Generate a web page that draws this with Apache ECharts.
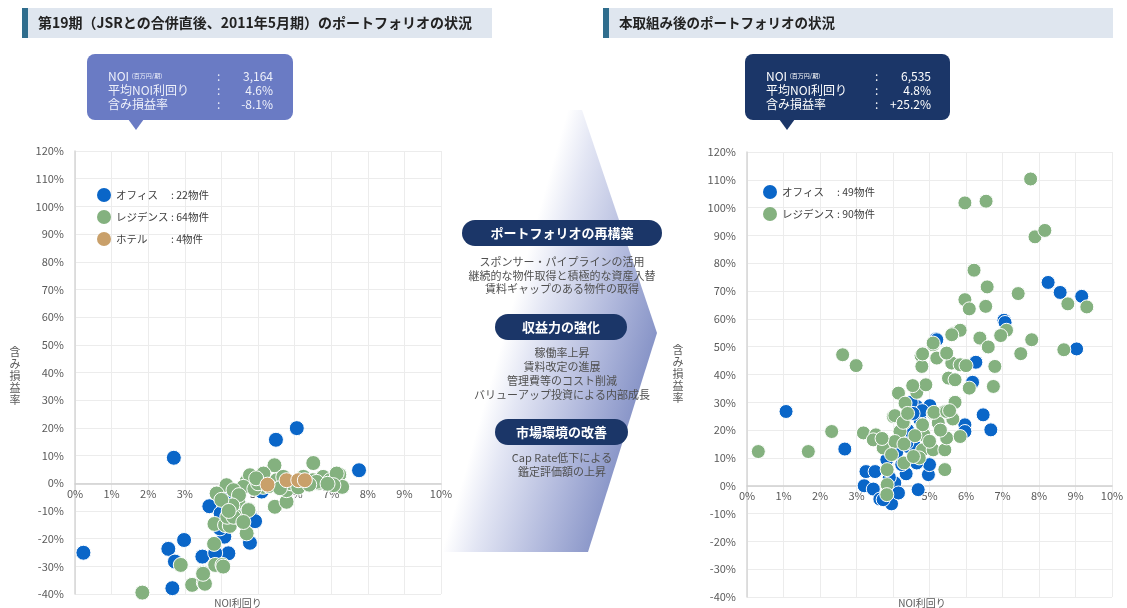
<!DOCTYPE html>
<html><head><meta charset="utf-8">
<script src="https://cdn.jsdelivr.net/npm/echarts@6/dist/echarts.min.js"></script>
<style>html,body{margin:0;padding:0;background:#fff}#c{width:1127px;height:608px}</style>
</head><body><div id="c"></div>
<script>
// ---------- data ----------
const seriesNames = ['オフィス', 'レジデンス', 'ホテル'];
const legendCountsLeft = [': 22物件', ': 64物件', ': 4物件'];
const legendCountsRight = [': 49物件', ': 90物件'];
const titleLeft = '第19期（JSRとの合併直後、2011年5月期）のポートフォリオの状況';
const titleRight = '本取組み後のポートフォリオの状況';
const calloutLabels = ['平均NOI利回り', '含み損益率'];
const calloutLeftValues = ['3,164', '4.6%', '-8.1%'];
const calloutRightValues = ['6,535', '4.8%', '+25.2%'];
const xAxisName = 'NOI利回り';
const yAxisName = '含み損益率';
const pillTitles = ['ポートフォリオの再構築', '収益力の強化', '市場環境の改善'];
const pillLines = [
  ['スポンサー・パイプラインの活用', '継続的な物件取得と積極的な資産入替', '賃料ギャップのある物件の取得'],
  ['稼働率上昇', '賃料改定の進展', '管理費等のコスト削減', 'バリューアップ投資による内部成長'],
  ['Cap Rate低下による', '鑑定評価額の上昇']
];
// [NOI yield %, unrealized gain/loss %]
const leftOffice = [[0.23,-25.1],[2.7,9.2],[2.55,-23.7],[2.98,-20.5],[2.73,-28.3],[2.66,-37.9],[3.48,-26.5],[3.67,-8.3],[3.98,-10.9],[4.22,-5.1],[4.08,-19.3],[4.19,-25.3],[3.83,-25.2],[3.96,-16.3],[4.8,-12.1],[4.92,-13.7],[4.78,-21.5],[5.49,15.7],[6.06,19.9],[7.76,4.7],[4.5,-8.0],[5.1,-3.0]];
const leftResidence = [[1.84,-39.5],[2.89,-29.5],[3.2,-36.7],[3.52,-35.9],[3.5,-32.3],[3.55,-36.3],[3.83,-29.5],[4.03,-29.5],[4.05,-30.1],[3.8,-21.9],[3.81,-14.7],[4.1,-15.1],[4.23,-15.4],[4.43,-12.1],[4.16,-12.1],[4.14,-0.7],[4.46,-6.7],[4.69,0.7],[4.74,-9.5],[4.69,-18.1],[5.05,1.1],[5.45,6.5],[5.46,-8.5],[5.78,-6.7],[6.51,7.3],[6.65,0.1],[7.1,-0.7],[7.22,3.1],[7.3,-1.3],[4.78,2.9],[5.15,3.5],[5.51,1.1],[5.69,2.3],[6.24,2.3],[6.5,1.1],[6.78,2.3],[6.97,1.1],[4.6,-1.3],[5.14,-1.3],[5.78,-2.5],[3.87,-3.7],[4.33,-2.5],[4.48,-4.3],[4.74,-9.7],[4.33,-12.1],[7.15,3.5],[7.06,-0.7],[6.6,0.5],[3.5,-32.7],[4.9,-2.0],[5.3,-1.0],[5.9,0.0],[6.1,-1.5],[5.0,0.0],[4.3,-8.0],[4.0,-6.0],[6.4,-0.5],[5.6,-1.8],[4.95,1.8],[6.9,-0.2],[4.6,-14.0],[4.2,-10.0]];
const leftHotel = [[5.26,-0.5],[5.78,1.1],[6.1,1.1],[6.28,1.1]];
const rightOffice = [[1.07,26.7],[2.68,13.2],[3.26,5.1],[3.51,5.1],[3.21,0.0],[3.46,-1.2],[3.64,-4.8],[3.96,-6.5],[3.73,-5.0],[4.05,1.0],[4.15,-2.6],[4.36,4.3],[4.69,-1.4],[4.97,4.0],[5.0,7.6],[4.42,14.1],[4.24,7.6],[3.83,9.4],[4.65,8.2],[4.6,14.1],[4.38,15.4],[4.65,28.5],[5.01,28.8],[4.69,24.9],[4.74,23.7],[5.97,21.9],[5.97,19.5],[6.47,25.5],[6.68,20.1],[5.18,52.8],[5.2,52.5],[6.27,44.4],[6.18,37.2],[7.04,59.5],[7.07,58.7],[8.25,73.1],[8.58,69.5],[9.17,68.1],[9.03,49.2],[4.5,30.0],[4.8,27.0],[4.1,12.0],[3.9,3.0],[4.4,20.0],[4.55,26.0]];
const rightResidence = [[0.31,12.3],[1.68,12.3],[2.32,19.5],[2.62,47.1],[2.99,43.2],[3.19,19.0],[3.53,18.3],[3.46,16.5],[3.73,13.6],[4.01,24.9],[4.3,22.5],[4.19,19.5],[4.05,15.9],[3.96,11.2],[3.84,5.8],[3.84,0.4],[3.83,-3.2],[4.3,8.2],[4.81,12.9],[4.72,10.0],[5.1,12.9],[5.1,26.1],[5.42,12.9],[5.42,5.8],[5.47,17.2],[5.84,17.7],[5.62,24.3],[5.42,26.7],[4.56,10.5],[4.85,18.3],[4.15,33.3],[4.33,29.7],[4.65,33.6],[4.9,36.3],[4.54,36.0],[4.05,25.2],[4.28,22.8],[4.81,21.9],[5.24,22.6],[5.64,24.0],[5.12,26.4],[5.47,26.7],[4.77,46.8],[5.1,50.7],[4.79,42.9],[5.2,45.9],[5.47,47.5],[5.61,44.1],[5.84,43.5],[6.0,43.2],[5.52,38.7],[5.7,38.1],[6.09,35.1],[6.79,42.9],[6.75,35.7],[6.4,52.8],[7.8,52.5],[7.5,47.5],[8.68,48.9],[8.79,65.4],[9.31,64.3],[7.43,69.1],[5.97,66.9],[6.09,63.6],[6.54,64.5],[6.22,77.5],[6.58,71.5],[7.77,110.3],[5.97,101.7],[6.55,102.3],[7.89,89.5],[8.16,91.8],[7.11,55.9],[6.95,54.0],[6.38,53.1],[6.61,49.9],[5.65,54.7],[5.84,55.9],[5.1,51.3],[5.47,47.7],[4.81,47.4],[5.61,54.3],[4.3,15.0],[4.6,18.0],[5.3,20.0],[5.0,16.0],[4.4,26.0],[5.7,30.0],[3.7,17.0],[5.55,27.0]];

// ---------- style ----------
const FONT = '"Noto Sans CJK JP", "Noto Sans", sans-serif';
const C_OFFICE = '#0a66c8', C_RES = '#84b17f', C_HOTEL = '#c9a06a';
const NAVY = '#1b3668';
const Y_MIN = -40, Y_MAX = 120;
const grids = [{left:75, top:151, width:366, height:443}, {left:747, top:152, width:365, height:445}];

const chart = echarts.init(document.getElementById('c'), null, {renderer: 'canvas'});

function xAx(gi){
  const zeroFromBottom = grids[gi].height * (0 - Y_MIN) / (Y_MAX - Y_MIN);
  return {gridIndex: gi, type:'value', min:0, max:10, interval:1, position:'bottom', offset:-zeroFromBottom,
  axisLine:{show:true, onZero:false, lineStyle:{color:'#cfcfcf', width:1.5}},
  axisTick:{show:false},
  axisLabel:{formatter: v => v + '%', color:'#5a5a5a', fontSize:11, fontFamily:FONT, margin:5},
  splitLine:{show:true, lineStyle:{color:'#ececec'}}}; }
function yAx(gi){ return {gridIndex: gi, type:'value', min:Y_MIN, max:Y_MAX, interval:10,
  axisLine:{show:true, onZero:false, lineStyle:{color:'#d6d6d6', width:1.5}},
  axisTick:{show:false},
  axisLabel:{formatter: v => v + '%', color:'#5a5a5a', fontSize:11, fontFamily:FONT, margin:11},
  splitLine:{show:true, lineStyle:{color:'#ececec'}}}; }
function sc(name, data, gi, color, size){ return {name, type:'scatter', xAxisIndex:gi, yAxisIndex:gi,
  data, symbolSize:size, itemStyle:{color, borderColor:'#fff', borderWidth:1, opacity:1}, emphasis:{disabled:true}}; }
function legendOf(names, counts, left, top){
  return {orient:'vertical', left, top, itemWidth:14, itemHeight:14, itemGap:8, icon:'circle',
    data: names.map(n => ({name:n, itemStyle:{borderWidth:0}})),
    formatter: n => '{a|' + n + '}{b|' + counts[names.indexOf(n)] + '}',
    textStyle:{fontFamily:FONT, rich:{a:{width:55, fontSize:10.5, color:'#404040', fontFamily:FONT}, b:{fontSize:10.5, color:'#404040', fontFamily:FONT}}},
    selectedMode:false};
}
const lNames = seriesNames.map(n => n);
const rNames = [seriesNames[0] + ' ', seriesNames[1] + ' '];

const g = [];
// title bars
function titleBar(x, w, text, fs){
  g.push({type:'rect', shape:{x, y:8, width:w, height:30}, style:{fill:'#dfe6ef'}});
  g.push({type:'rect', shape:{x, y:8, width:6, height:30}, style:{fill:'#2f6d8d'}});
  g.push({type:'text', x:x+16, y:23, style:{text, fontSize:fs, fontWeight:'bold', fill:'#222', fontFamily:FONT, verticalAlign:'middle'}});
}
titleBar(22, 470, titleLeft, 14);
titleBar(603, 510, titleRight, 13.5);
// callouts
function callout(x, w, tipX, fill, txtColor, vals){
  g.push({type:'rect', shape:{x, y:54, width:w, height:66, r:8}, style:{fill}});
  g.push({type:'polygon', shape:{points:[[tipX-8,119],[tipX+8,119],[tipX,130]]}, style:{fill}});
  const lx = x + 21, cx = x + 130, vx = x + 186;
  const ys = [76, 90, 104];
  g.push({type:'text', x:lx, y:ys[0], style:{text:'{a|NOI}{s|  (百万円/期)}', rich:{a:{fontSize:12, fill:txtColor, fontFamily:FONT}, s:{fontSize:6, fill:txtColor, fontFamily:FONT}}, verticalAlign:'middle'}});
  calloutLabels.forEach((t,i) => g.push({type:'text', x:lx, y:ys[i+1], style:{text:t, fontSize:12, fill:txtColor, fontFamily:FONT, verticalAlign:'middle'}}));
  ys.forEach((y,i) => {
    g.push({type:'text', x:cx, y, style:{text:':', fontSize:12, fill:txtColor, fontFamily:FONT, verticalAlign:'middle'}});
    g.push({type:'text', x:vx, y, style:{text:vals[i], fontSize:12, fill:txtColor, fontFamily:FONT, align:'right', verticalAlign:'middle'}});
  });
}
callout(87, 206, 136, '#6a7bc4', '#eef0fa', calloutLeftValues);
callout(745, 205, 787, NAVY, '#ffffff', calloutRightValues);
// arrow
g.push({type:'polygon', z:-1, shape:{points:[[440,110],[582,110],[657,333],[588,552],[440,552]]},
  style:{fill:new echarts.graphic.LinearGradient(0,0,1.211,0.169,[{offset:0,color:'#ffffff'},{offset:0.45,color:'#ffffff'},{offset:0.56,color:'#e3e6f4'},{offset:0.8,color:'#b0b8dc'},{offset:1,color:'#8592c6'}])}});
// pills
const pills = [{x:462,w:200,cy:233},{x:495,w:132,cy:327},{x:495,w:133,cy:432}];
const lineY = [[262,276,289],[353,367,381,395],[458,472]];
pills.forEach((p,i) => {
  g.push({type:'rect', shape:{x:p.x, y:p.cy-13, width:p.w, height:26, r:13}, style:{fill:NAVY}});
  g.push({type:'text', x:p.x+p.w/2, y:p.cy, style:{text:pillTitles[i], fontSize:13, fontWeight:'bold', fill:'#fff', fontFamily:FONT, align:'center', verticalAlign:'middle'}});
  pillLines[i].forEach((t,j) => g.push({type:'text', x:562, y:lineY[i][j], style:{text:t, fontSize:11, fill:'#505050', fontFamily:FONT, align:'center', verticalAlign:'middle'}}));
});
// axis names
[[238,603],[922,603]].forEach(p => g.push({type:'text', x:p[0], y:p[1], style:{text:xAxisName, fontSize:10, fill:'#5a5a5a', fontFamily:FONT, align:'center', verticalAlign:'middle'}}));
[[15,376],[678,374]].forEach(p => g.push({type:'text', x:p[0], y:p[1], style:{text:yAxisName.split('').join('\n'), fontSize:11, lineHeight:12, fill:'#5a5a5a', fontFamily:FONT, align:'center', verticalAlign:'middle'}}));

chart.setOption({
  animation:false,
  textStyle:{fontFamily:FONT},
  grid:grids,
  xAxis:[xAx(0), xAx(1)],
  yAxis:[yAx(0), yAx(1)],
  legend:[legendOf(lNames, legendCountsLeft, 92, 183), legendOf(rNames, legendCountsRight, 758, 180)],
  series:[
    sc(lNames[0], leftOffice, 0, C_OFFICE, 15),
    sc(lNames[1], leftResidence, 0, C_RES, 15),
    sc(lNames[2], leftHotel, 0, C_HOTEL, 15),
    sc(rNames[0], rightOffice, 1, C_OFFICE, 14),
    sc(rNames[1], rightResidence, 1, C_RES, 14)
  ],
  graphic:g
});
</script></body></html>
